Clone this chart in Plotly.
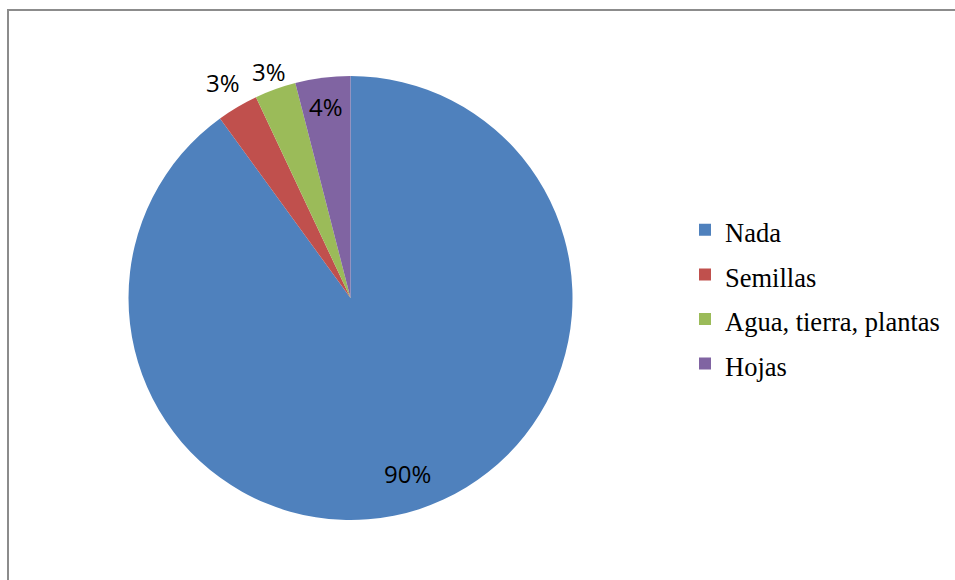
import math
import plotly.graph_objects as go

categories = ["Nada", "Semillas", "Agua, tierra, plantas", "Hojas"]
values = [90, 3, 3, 4]
colors = ["#4F81BD", "#C0504D", "#9BBB59", "#8064A2"]

W, H = 955, 580


def px(x):
    return x / W


def py(y):
    return 1 - y / H


# pie geometry in window pixels
CX, CY, R = 350.5, 298, 222
# radial position of each percentage label (fraction of radius)
label_radius = [0.83, 1.13, 1.085, 0.87]

legend_labels = ["<span style='font-size:26.5px'>%s</span>" % c for c in categories]

fig = go.Figure(
    go.Pie(
        labels=legend_labels,
        values=values,
        sort=False,
        direction="clockwise",
        rotation=0,
        marker=dict(colors=colors, line=dict(width=0)),
        textinfo="none",
        hoverinfo="label+percent",
        domain=dict(x=[px(CX - R), px(CX + R)], y=[py(CY + R), py(CY - R)]),
    )
)

total = sum(values)
annotations = []
cum = 0
for v, rf in zip(values, label_radius):
    mid = (cum + v / 2) / total * 2 * math.pi
    cum += v
    lx = CX + math.sin(mid) * R * rf
    ly = CY - math.cos(mid) * R * rf
    annotations.append(
        dict(
            x=px(lx),
            y=py(ly),
            xref="paper",
            yref="paper",
            text="%d%%" % round(v / total * 100),
            showarrow=False,
            xanchor="center",
            yanchor="middle",
            font=dict(family="Open Sans, Liberation Sans, sans-serif", size=24, color="black"),
        )
    )

fig.update_layout(
    width=W,
    height=H,
    margin=dict(l=0, r=0, t=0, b=0),
    paper_bgcolor="white",
    plot_bgcolor="white",
    showlegend=True,
    legend=dict(
        x=px(685),
        xanchor="left",
        y=py(297),
        yanchor="middle",
        font=dict(family="Liberation Serif, Times New Roman, serif", size=32, color="black"),
        itemwidth=30,
    ),
    annotations=annotations,
    shapes=[
        dict(type="line", xref="paper", yref="paper",
             x0=px(8), x1=px(8), y0=-0.05, y1=py(10),
             line=dict(color="#8C8C8C", width=2)),
        dict(type="line", xref="paper", yref="paper",
             x0=px(7), x1=1.05, y0=py(10), y1=py(10),
             line=dict(color="#8C8C8C", width=2)),
    ],
)

fig.write_html(
    "out.html",
    config={"displayModeBar": False},
    post_script="document.body.style.margin='0px';document.body.style.overflow='hidden';",
)
